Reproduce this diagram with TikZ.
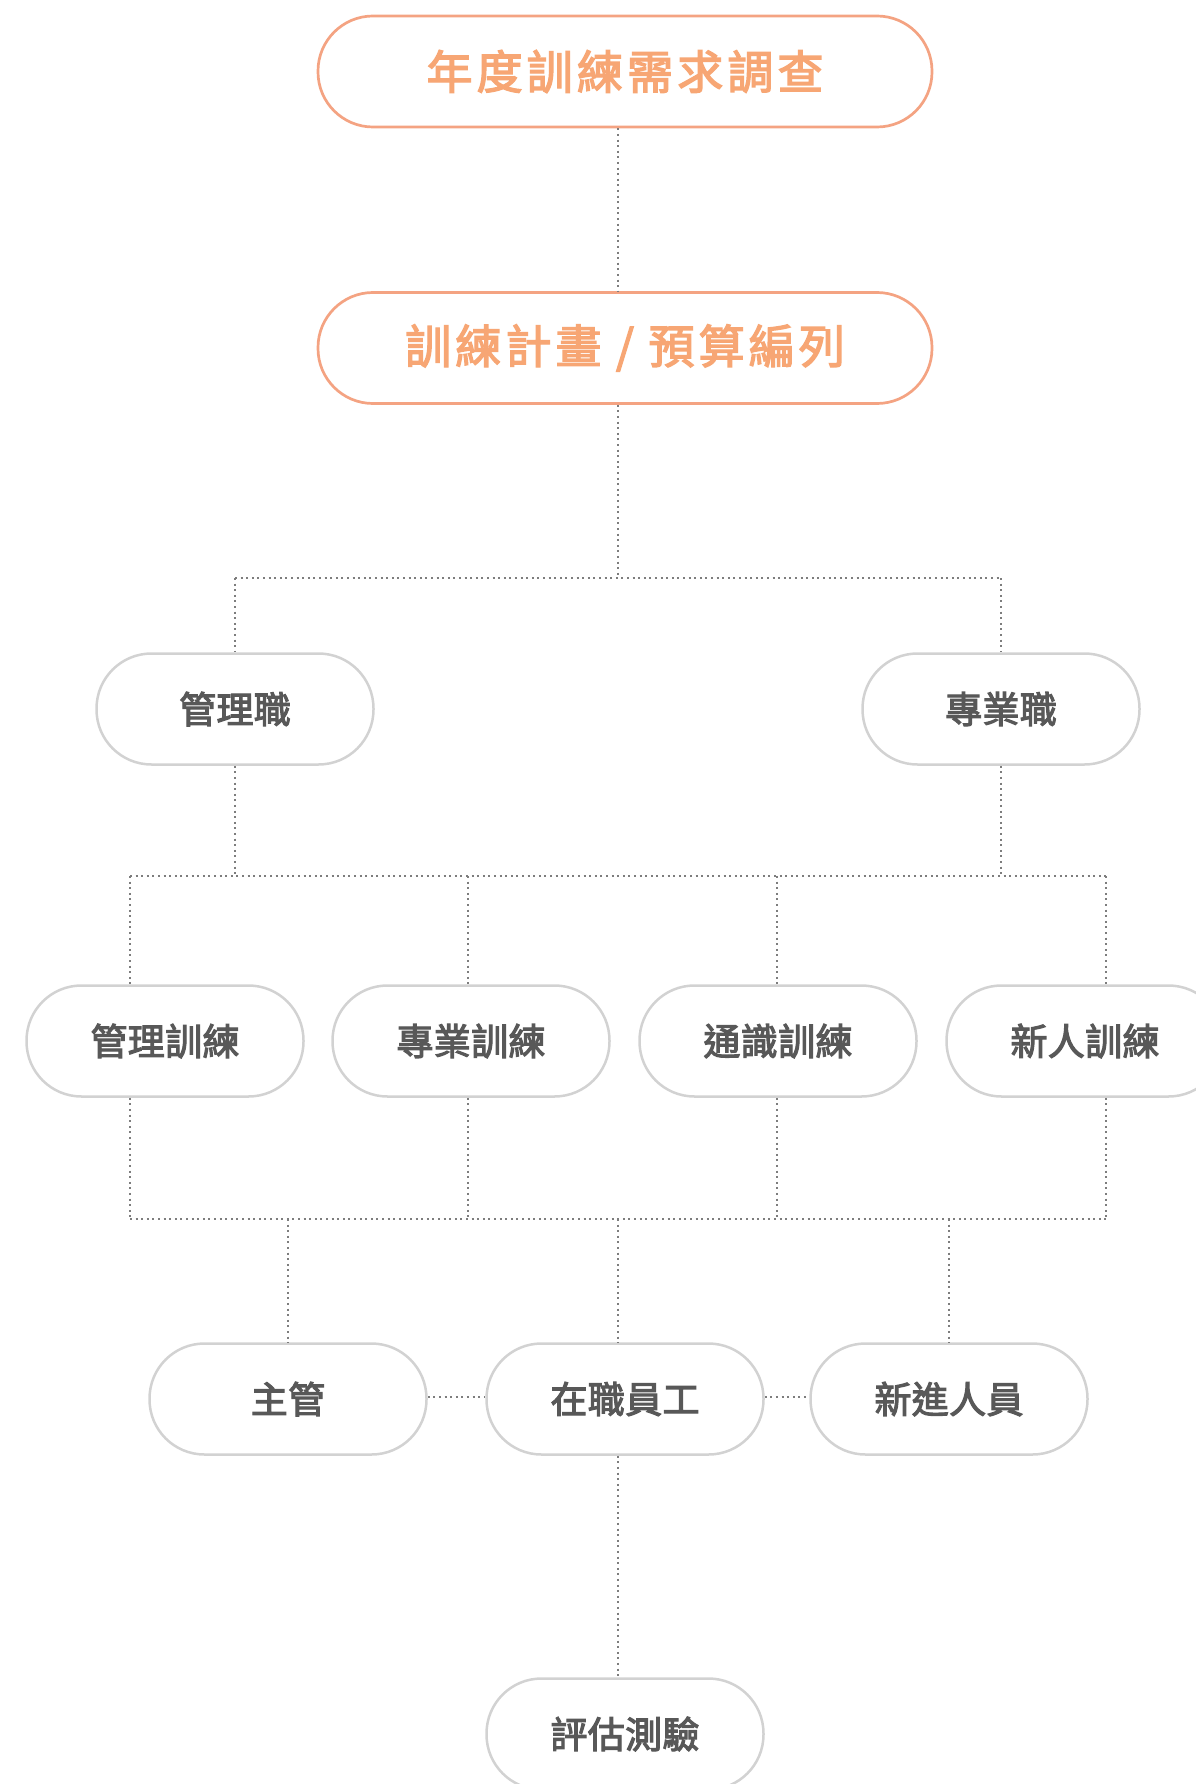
\documentclass[tikz,border=0pt]{standalone}
\usepackage{fontspec}
\newfontfamily\cjkt{Noto Sans CJK TC}[LetterSpace=9,FakeBold=3]
\newfontfamily\cjkg{Noto Sans CJK TC}[LetterSpace=1,FakeBold=3]
\definecolor{orangeline}{RGB}{244,163,130}
\definecolor{orangetext}{RGB}{247,166,116}
\definecolor{graybd}{RGB}{210,210,210}
\definecolor{graytext}{RGB}{88,88,88}
\definecolor{dotc}{RGB}{125,125,125}
\tikzset{
  pillorange/.style={draw=orangeline, line width=2.7pt, fill=white, rounded corners=55pt,
    minimum width=614pt, minimum height=111pt, inner sep=0pt,
    text=orangetext, font=\cjkt\fontsize{46}{52}\selectfont},
  pillgray/.style={draw=graybd, line width=2.5pt, fill=white, rounded corners=55pt,
    minimum width=277pt, minimum height=111pt, inner sep=0pt,
    text=graytext, font=\cjkg\fontsize{37}{42}\selectfont},
  link/.style={draw=dotc, line width=2pt, dash pattern=on 2pt off 3.6pt}
}
\begin{document}
\begin{tikzpicture}[x=1pt,y=-1pt]
\useasboundingbox (0,0) rectangle (1195,1784);
% nodes
\node[pillorange] (t1) at (625,71.5) {年度訓練需求調查};
\node[pillorange] (t2) at (625,348) {訓練計畫 / 預算編列};
\node[pillgray] (m1) at (235,709) {管理職};
\node[pillgray] (m2) at (1001,709) {專業職};
\node[pillgray] (r1) at (165,1041) {管理訓練};
\node[pillgray] (r2) at (471,1041) {專業訓練};
\node[pillgray] (r3) at (778,1041) {通識訓練};
\node[pillgray] (r4) at (1085,1041) {新人訓練};
\node[pillgray] (s1) at (288,1399) {主管};
\node[pillgray] (s2) at (625,1399) {在職員工};
\node[pillgray] (s3) at (949,1399) {新進人員};
\node[pillgray] (e1) at (625,1734) {評估測驗};
% bus coordinates
\coordinate (b1l) at (235,578);
\coordinate (b1r) at (1001,578);
\coordinate (b1m) at (618,578);
\coordinate (b2l) at (130,876);
\coordinate (b2r) at (1106,876);
\coordinate (b3l) at (130,1219);
\coordinate (b3r) at (1106,1219);
% connectors
\draw[link] (t1.south -| b1m) -- (t2.north -| b1m);
\draw[link] (t2.south -| b1m) -- (b1m);
\draw[link] (b1l) -- (b1r);
\draw[link] (b1l) -- (m1.north);
\draw[link] (b1r) -- (m2.north);
\draw[link] (m1.south) -- (m1.south |- b2l);
\draw[link] (m2.south) -- (m2.south |- b2l);
\draw[link] (b2l) -- (b2r);
\draw[link] (b2l) -- (b2l |- r1.north);
\draw[link] (468,876) -- (r2.north -| 468,0);
\draw[link] (777,876) -- (r3.north -| 777,0);
\draw[link] (b2r) -- (b2r |- r4.north);
\draw[link] (r1.south -| b3l) -- (b3l);
\draw[link] (r2.south -| 468,0) -- (468,1219);
\draw[link] (r3.south -| 777,0) -- (777,1219);
\draw[link] (r4.south -| b3r) -- (b3r);
\draw[link] (b3l) -- (b3r);
\draw[link] (s1.north |- b3l) -- (s1.north);
\draw[link] (618,1219) -- (s2.north -| 618,0);
\draw[link] (s3.north |- b3l) -- (s3.north);
\draw[link] ([yshift=2pt]s1.east) -- ([yshift=2pt]s2.west);
\draw[link] ([yshift=2pt]s2.east) -- ([yshift=2pt]s3.west);
\draw[link] (s2.south -| 618,0) -- (e1.north -| 618,0);
\end{tikzpicture}
\end{document}
